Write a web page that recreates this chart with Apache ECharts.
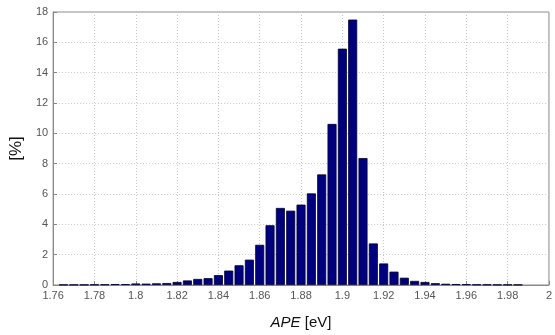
<!DOCTYPE html>
<html>
<head>
<meta charset="utf-8">
<script src="https://cdn.jsdelivr.net/npm/echarts@6/dist/echarts.min.js"></script>
<style>html,body{margin:0;padding:0;background:#fff;}#c{width:555px;height:335px;}</style>
</head>
<body>
<div id="c"></div>
<script>
var binCenters = [1.765,1.770,1.775,1.780,1.785,1.790,1.795,1.800,1.805,1.810,1.815,1.820,1.825,1.830,1.835,1.840,1.845,1.850,1.855,1.860,1.865,1.870,1.875,1.880,1.885,1.890,1.895,1.900,1.905,1.910,1.915,1.920,1.925,1.930,1.935,1.940,1.945,1.950,1.955,1.960,1.965,1.970,1.975,1.980,1.985];
var percents = [0.02,0.02,0.02,0.03,0.04,0.06,0.06,0.10,0.09,0.11,0.13,0.20,0.30,0.40,0.45,0.65,0.95,1.30,1.67,2.65,3.94,5.08,4.90,5.30,6.04,7.29,10.62,15.58,17.50,8.37,2.74,1.42,0.88,0.48,0.27,0.20,0.12,0.08,0.06,0.05,0.03,0.03,0.02,0.02,0.02];
var xMin = 1.76, xMax = 2.0, xStep = 0.02;
var yMin = 0, yMax = 18, yStep = 2;
var xTitle = 'APE', xUnit = ' [eV]', yTitle = '[%]';

var chart = echarts.init(document.getElementById('c'), null, {renderer: 'canvas'});
var data = binCenters.map(function (x, i) { return [x, percents[i]]; });
var gridLine = {show: true, lineStyle: {color: '#c8c8c8', type: [1, 2], width: 1}};
var labelFont = {fontFamily: 'Liberation Sans', fontSize: 11, color: '#555'};
chart.setOption({
  animation: false,
  grid: {left: 50, right: 4, top: 12, bottom: 49, show: true, borderColor: '#8a8a8a', borderWidth: 1, backgroundColor: '#fff'},
  xAxis: {
    type: 'value', min: xMin, max: xMax, interval: xStep,
    axisLine: {show: true, lineStyle: {color: '#8a8a8a'}},
    axisTick: {show: true, inside: true, length: 4, lineStyle: {color: '#8a8a8a'}},
    axisLabel: Object.assign({margin: 5, formatter: function (v) { return String(parseFloat(v.toFixed(2))); }}, labelFont),
    splitLine: gridLine,
    name: '{i|' + xTitle + '}{n|' + xUnit + '}',
    nameLocation: 'middle', nameGap: 30,
    nameTextStyle: {rich: {
      i: {fontFamily: 'Liberation Sans', fontSize: 15, fontStyle: 'italic', color: '#111'},
      n: {fontFamily: 'Liberation Sans', fontSize: 15, color: '#111'}
    }}
  },
  yAxis: {
    type: 'value', min: yMin, max: yMax, interval: yStep,
    axisLine: {show: true, lineStyle: {color: '#8a8a8a'}},
    axisTick: {show: true, inside: true, length: 4, lineStyle: {color: '#8a8a8a'}},
    axisLabel: Object.assign({margin: 5}, labelFont),
    splitLine: gridLine,
    name: yTitle, nameLocation: 'middle', nameGap: 22, nameRotate: 90,
    nameTextStyle: {fontFamily: 'Liberation Sans', fontSize: 17, color: '#111'}
  },
  series: [{
    type: 'bar', data: data, barWidth: 9,
    itemStyle: {color: '#00007f', borderColor: '#000030', borderWidth: 0.8}
  }]
});
</script>
</body>
</html>
